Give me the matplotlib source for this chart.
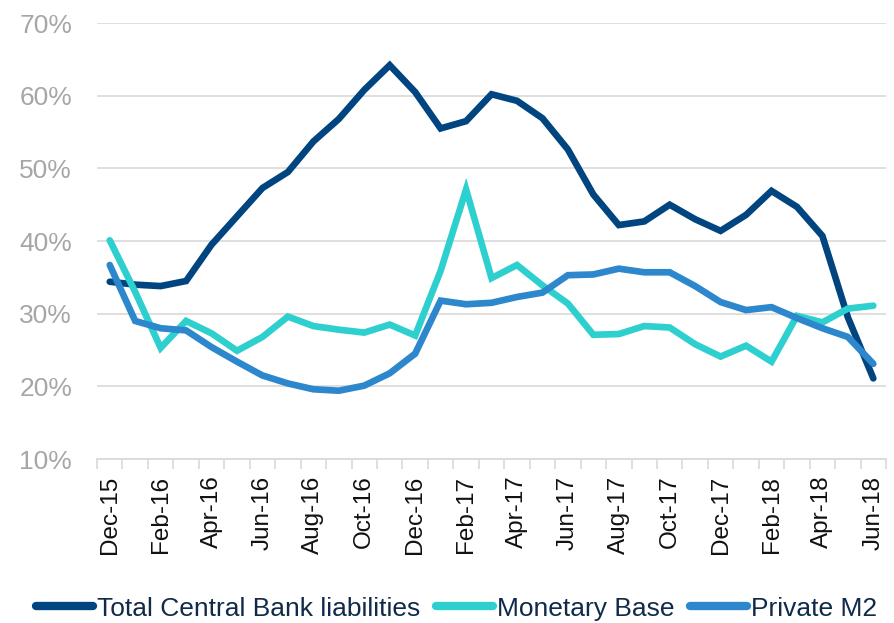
import numpy as np
import matplotlib.pyplot as plt
from matplotlib.ticker import FixedLocator, FuncFormatter

plt.rcParams['font.family'] = ['Liberation Sans', 'DejaVu Sans']

# monthly, Dec-15 .. Jun-18
months = ['Dec-15', 'Jan-16', 'Feb-16', 'Mar-16', 'Apr-16', 'May-16', 'Jun-16',
          'Jul-16', 'Aug-16', 'Sep-16', 'Oct-16', 'Nov-16', 'Dec-16', 'Jan-17',
          'Feb-17', 'Mar-17', 'Apr-17', 'May-17', 'Jun-17', 'Jul-17', 'Aug-17',
          'Sep-17', 'Oct-17', 'Nov-17', 'Dec-17', 'Jan-18', 'Feb-18', 'Mar-18',
          'Apr-18', 'May-18', 'Jun-18']

total_cb = [34.4, 34.0, 33.8, 34.5, 39.5, 43.4, 47.3, 49.5, 53.7, 56.8, 60.8,
            64.2, 60.5, 55.5, 56.5, 60.2, 59.3, 56.9, 52.6, 46.4, 42.2, 42.7,
            45.0, 43.0, 41.4, 43.6, 46.9, 44.7, 40.7, 29.5, 21.1]
monetary_base = [40.1, 33.0, 25.3, 29.0, 27.3, 24.9, 26.8, 29.6, 28.3, 27.8, 27.4,
                 28.5, 27.0, 35.9, 47.1, 34.9, 36.7, 33.9, 31.4, 27.1, 27.2, 28.3,
                 28.1, 25.8, 24.1, 25.6, 23.4, 29.7, 28.8, 30.7, 31.1]
private_m2 = [36.7, 29.0, 28.0, 27.7, 25.4, 23.4, 21.5, 20.4, 19.6, 19.4, 20.1,
              21.8, 24.5, 31.8, 31.3, 31.5, 32.3, 32.9, 35.3, 35.4, 36.2, 35.7,
              35.7, 33.8, 31.6, 30.5, 30.9, 29.4, 28.0, 26.8, 23.1]

series = [('Total Central Bank liabilities', total_cb, '#00457f'),
          ('Monetary Base', monetary_base, '#2ecfcf'),
          ('Private M2', private_m2, '#2c87cc')]

fig = plt.figure(figsize=(8.95, 6.23), dpi=100)
ax = fig.add_axes([0.1084, 0.2632, 0.8816, 0.6998])

x = np.arange(len(months))
for name, vals, col in series:
    ax.plot(x, vals, color=col, lw=4.8, label=name,
            solid_joinstyle='miter', solid_capstyle='round')

ax.set_xlim(-0.5, len(months) - 0.5)
ax.set_ylim(10, 70)
ax.set_yticks(range(10, 71, 10))
ax.yaxis.set_major_formatter(FuncFormatter(lambda v, p: f'{v:.0f}%'))
ax.grid(axis='y', color='#d9d9d9', lw=1.2)
ax.set_axisbelow(True)

# labels on every other month, tick marks between categories
ax.set_xticks(x[::2])
ax.set_xticklabels(months[::2], rotation=90, fontsize=17.5, color='#111111')
ax.xaxis.set_minor_locator(FixedLocator(np.arange(-0.5, len(months), 1)))
ax.tick_params(axis='x', which='major', length=0, pad=12)
ax.tick_params(axis='x', which='minor', length=7, color='#d9d9d9', width=1.2)
ax.tick_params(axis='y', length=0, labelsize=19, labelcolor='#a6a6a6', pad=18)

for s in ['top', 'right', 'left']:
    ax.spines[s].set_visible(False)
ax.spines['bottom'].set_color('#d9d9d9')
ax.spines['bottom'].set_linewidth(1.2)

leg = fig.legend(loc='center', bbox_to_anchor=(0.51, 0.023), ncol=3,
                 frameon=False, fontsize=19, handlelength=2.15, handletextpad=0.15,
                 columnspacing=0.6, borderpad=0, labelcolor='#0f2a4a')
for h in leg.get_lines():
    h.set_linewidth(6)

fig.savefig('out.png', dpi=100)
